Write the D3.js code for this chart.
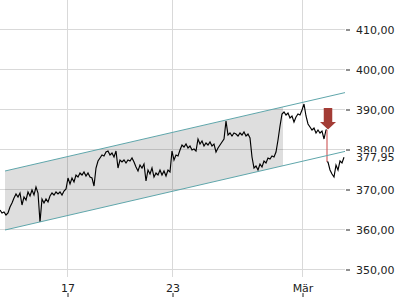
<!DOCTYPE html>
<html>
<head>
<meta charset="utf-8">
<script src="https://cdn.jsdelivr.net/npm/d3@7"></script>
<style>
  body { margin: 0; background: #fff; }
  svg text { font-family: "DejaVu Sans", sans-serif; font-size: 11px; fill: #222; }
</style>
</head>
<body>
<svg width="400" height="300"></svg>
<script>
// intraday prices, one value per time slot
const prices = [
  364.75, 364.0, 364.25, 363.5, 364.0, 365.5, 366.5, 367.75, 368.75, 368.0,
  369.0, 366.0, 368.0, 367.25, 369.25, 368.25, 369.75, 368.5, 370.5, 369.0,
  361.75, 367.5, 366.5, 367.5, 366.75, 368.25, 369.0, 368.5, 369.25, 368.75,
  369.25, 368.5, 369.5, 370.0, 372.75, 371.25, 372.75, 371.75, 373.5, 373.0,
  374.0, 373.5, 374.25, 373.25, 374.0, 373.0, 372.75, 370.75, 375.25, 377.0,
  377.75, 378.5, 378.25, 379.25, 379.5, 378.5, 379.0, 378.0, 379.5, 375.25,
  377.25, 376.75, 377.25, 376.5, 377.25, 377.0, 377.75, 376.75, 375.5, 374.5,
  376.0, 375.25, 376.25, 372.0, 374.75, 373.75, 375.25, 373.0, 374.0, 373.5,
  374.75, 373.5, 374.5, 373.25, 374.75, 374.25, 379.5, 377.25, 378.5, 378.25,
  379.75, 381.0, 380.5, 381.25, 380.25, 380.75, 379.75, 380.0, 379.5, 382.5,
  381.25, 382.0, 380.75, 381.5, 381.0, 381.75, 380.75, 381.25, 379.25, 380.25,
  381.0, 381.75, 382.5, 387.0, 383.5, 384.0, 383.25, 384.0, 383.75, 383.25,
  384.0, 383.5, 384.25, 383.25, 383.75, 382.75, 378.0, 375.25, 375.75, 374.75,
  376.25, 375.5, 377.0, 376.5, 377.75, 377.5, 378.25, 378.0, 379.25, 382.25,
  385.75, 388.75, 389.25, 388.5, 389.0, 387.75, 388.25, 386.75, 388.0, 388.75,
  388.5, 389.75, 391.25, 388.25, 386.25, 385.5, 384.75, 385.25, 384.0, 384.75,
  384.0, 384.5, 382.5, 384.75, 376.75, 374.75, 373.75, 373.0, 376.0, 374.75,
  377.0, 376.5, 377.95
];
const gapIndex = 164;          // first slot after the overnight gap
const lastPrice = 377.95;

const yTicks = [350, 360, 370, 380, 390, 400, 410];
const xTickPos = [33.5, 86, 151];
const xTickLabels = ['17', '23', 'Mär'];

// trend channel (start / end slot and prices)
const channelSlots = [2.5, 172.5];
const channelUpper = [374.5, 394.1];
const channelLower = [359.75, 379.4];
const channelFillEnd = 141.5;

// sell signal
const signalSlot = 164;
const signalPrice = 384.9;

const svg = d3.select('svg');
const plotRight = 345;

const x = d3.scaleLinear().domain([0, 172.5]).range([0, plotRight]);
const y = d3.scaleLinear().domain([350, 410]).range([269, 29]);

const de = d3.formatLocale({decimal: ',', thousands: '.', grouping: [3], currency: ['', ' €']});
const fmt = de.format('.2f');

// grid
svg.append('g')
  .selectAll('line')
  .data(yTicks)
  .enter().append('line')
    .attr('x1', 0).attr('x2', plotRight)
    .attr('y1', d => y(d) + 0.5).attr('y2', d => y(d) + 0.5)
    .style('stroke', '#d9d9d9');

svg.append('g')
  .selectAll('line')
  .data(xTickPos)
  .enter().append('line')
    .attr('x1', d => Math.round(x(d)) + 0.5).attr('x2', d => Math.round(x(d)) + 0.5)
    .attr('y1', 0).attr('y2', 277)
    .style('stroke', '#d9d9d9');

// channel fill
const upper = d3.scaleLinear().domain(channelSlots).range(channelUpper);
const lower = d3.scaleLinear().domain(channelSlots).range(channelLower);
const fillPts = [
  [channelSlots[0], upper(channelSlots[0])],
  [channelFillEnd, upper(channelFillEnd)],
  [channelFillEnd, lower(channelFillEnd)],
  [channelSlots[0], lower(channelSlots[0])]
];
svg.append('path')
  .attr('d', 'M' + fillPts.map(p => [x(p[0]), y(p[1])]).join('L') + 'Z')
  .style('fill', 'rgba(0,0,0,0.13)');

// price line, the overnight gap is drawn as a red vertical
const line = d3.line()
  .x(d => x(d.i))
  .y(d => y(d.v));
const pts = prices.map((v, i) => ({i: i, v: v}));
const gapAt = gapIndex - 0.5;
const before = pts.slice(0, gapIndex).concat([{i: gapAt, v: prices[gapIndex - 1]}]);
const after = [{i: gapAt, v: prices[gapIndex]}].concat(pts.slice(gapIndex));

svg.append('path')
  .datum(before)
  .attr('d', line)
  .style('fill', 'none').style('stroke', '#000').style('stroke-width', 1.15);
svg.append('path')
  .datum([{i: gapAt, v: prices[gapIndex - 1]}, {i: gapAt, v: prices[gapIndex]}])
  .attr('d', line)
  .style('fill', 'none').style('stroke', '#cc5555').style('stroke-width', 1.1);
svg.append('path')
  .datum(after)
  .attr('d', line)
  .style('fill', 'none').style('stroke', '#000').style('stroke-width', 1.15);

// channel lines
[channelUpper, channelLower].forEach(c => {
  svg.append('line')
    .attr('x1', x(channelSlots[0])).attr('y1', y(c[0]))
    .attr('x2', x(channelSlots[1])).attr('y2', y(c[1]))
    .style('stroke', '#5fa6ab').style('stroke-width', 1);
});

// signal arrow (tip at the signal price)
const ax = x(signalSlot), ay = y(signalPrice);
const arrow = [[-4.25, -21.5], [4.25, -21.5], [4.25, -7.5], [8, -7.5], [0, 0], [-8, -7.5], [-4.25, -7.5]];
svg.append('path')
  .attr('d', 'M' + arrow.map(p => [ax + p[0], ay + p[1]]).join('L') + 'Z')
  .style('fill', '#a33c35');

// y axis on the right
const yAxis = svg.append('g')
  .attr('transform', `translate(${plotRight + 1},0.5)`)
  .call(d3.axisRight(y).tickValues(yTicks).tickSize(4).tickPadding(6).tickFormat(fmt));
yAxis.select('.domain').remove();
yAxis.selectAll('line').style('stroke', '#222');
yAxis.selectAll('text').attr('font-size', null).attr('font-family', null);

// x axis: labels above small ticks
const xAxis = svg.append('g')
  .attr('transform', 'translate(0.5,297)')
  .call(d3.axisTop(x).tickValues(xTickPos).tickSize(4).tickPadding(1)
    .tickFormat((d, i) => xTickLabels[i]));
xAxis.select('.domain').remove();
xAxis.selectAll('line').style('stroke', '#222');
xAxis.selectAll('text').attr('font-size', null).attr('font-family', null);

// last price label, covers the grid label behind it
const ly = y(lastPrice);
svg.append('rect')
  .attr('x', plotRight + 7).attr('y', ly - 5)
  .attr('width', 48).attr('height', 12)
  .style('fill', '#fff');
svg.append('text')
  .attr('x', plotRight + 11).attr('y', ly + 0.5)
  .attr('dy', '0.32em')
  .text(fmt(lastPrice));
</script>
</body>
</html>
